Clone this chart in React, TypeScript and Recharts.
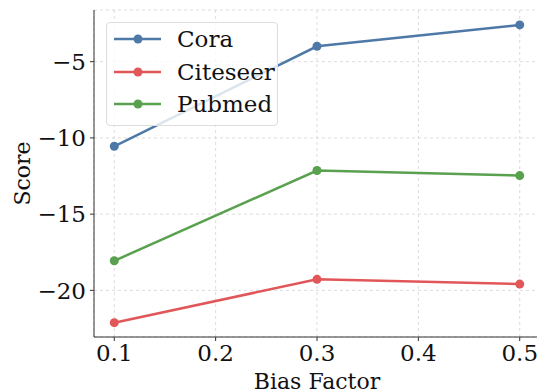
import { LineChart, Line, XAxis, YAxis, CartesianGrid, Legend } from "recharts"

const biasFactors = [0.1, 0.3, 0.5]
const cora = [-10.55, -3.99, -2.59]
const citeseer = [-22.12, -19.28, -19.59]
const pubmed = [-18.06, -12.14, -12.47]

const xTicks = [0.1, 0.2, 0.3, 0.4, 0.5]
const yTicks = [-20, -15, -10, -5]

const series = [
  { key: "cora", name: "Cora", color: "#4e79a7" },
  { key: "citeseer", name: "Citeseer", color: "#e15759" },
  { key: "pubmed", name: "Pubmed", color: "#59a14f" },
]

const data = biasFactors.map((x, i) => ({
  x,
  cora: cora[i],
  citeseer: citeseer[i],
  pubmed: pubmed[i],
}))

const FONT = "'DejaVu Serif', serif"

function LegendBox() {
  return (
    <div
      style={{
        position: "absolute",
        left: 106,
        top: 22,
        width: 172,
        height: 104,
        background: "rgba(255,255,255,0.8)",
        border: "1px solid #dddddd",
        borderRadius: 4,
        boxSizing: "border-box",
        fontFamily: FONT,
        fontSize: 23,
        color: "#111",
      }}
    >
      {series.map((s, i) => (
        <div
          key={s.key}
          style={{ position: "absolute", left: 0, top: 0 + i * 32.5, height: 32, display: "flex", alignItems: "center" }}
        >
          <svg width={70} height={20}>
            <line x1={7} y1={10} x2={54} y2={10} stroke={s.color} strokeWidth={2.5} />
            <circle cx={31} cy={10} r={4.5} fill={s.color} />
          </svg>
          <span>{s.name}</span>
        </div>
      ))}
    </div>
  )
}

export default function App() {
  return (
    <div style={{ position: "fixed", left: 0, top: 0, width: 537, height: 391, overflow: "hidden", background: "#fff" }}>
      <LineChart width={560} height={391} data={data} margin={{ top: 10, right: 20, bottom: 0, left: 0 }}>
        <CartesianGrid stroke="#dcdcdc" strokeDasharray="3 3" />
        <XAxis
          dataKey="x"
          type="number"
          domain={[0.08, 0.52]}
          ticks={xTicks}
          tickFormatter={(v) => v.toFixed(1)}
          height={54}
          stroke="#333"
          tickSize={4}
          tickMargin={4}
          tick={{ fontFamily: FONT, fontSize: 23, fill: "#111" }}
          label={({ viewBox }: any) => (
            <text x={viewBox.x + viewBox.width / 2} y={389} textAnchor="middle" fontFamily={FONT} fontSize={22} fill="#111">
              Bias Factor
            </text>
          )}
        />
        <XAxis xAxisId="top" orientation="top" dataKey="x" type="number" domain={[0.08, 0.52]} height={0} tick={false} tickLine={false} stroke="#333" />
        <YAxis
          type="number"
          domain={[-23.06, -1.61]}
          ticks={yTicks}
          tickFormatter={(v) => (v < 0 ? "\u2212" + Math.abs(v) : String(v))}
          width={94}
          stroke="#333"
          tickSize={4}
          tickMargin={4}
          tick={{ fontFamily: FONT, fontSize: 23, fill: "#111" }}
          label={({ viewBox }: any) => {
            const cy = viewBox.y + viewBox.height / 2
            return (
              <text x={30} y={cy} transform={`rotate(-90, 30, ${cy})`} textAnchor="middle" fontFamily={FONT} fontSize={22} fill="#111">
                Score
              </text>
            )
          }}
        />
        <YAxis yAxisId="right" orientation="right" domain={[-23.06, -1.61]} width={0} tick={false} tickLine={false} stroke="#333" />
        <Legend content={() => <LegendBox />} wrapperStyle={{ position: "absolute", left: 0, top: 0, width: 0, height: 0 }} />
        {series.map((s) => (
          <Line
            key={s.key}
            dataKey={s.key}
            name={s.name}
            stroke={s.color}
            strokeWidth={2.5}
            dot={{ r: 4.5, fill: s.color, stroke: s.color, strokeWidth: 0 }}
            activeDot={false}
            isAnimationActive={false}
          />
        ))}
      </LineChart>
    </div>
  )
}
